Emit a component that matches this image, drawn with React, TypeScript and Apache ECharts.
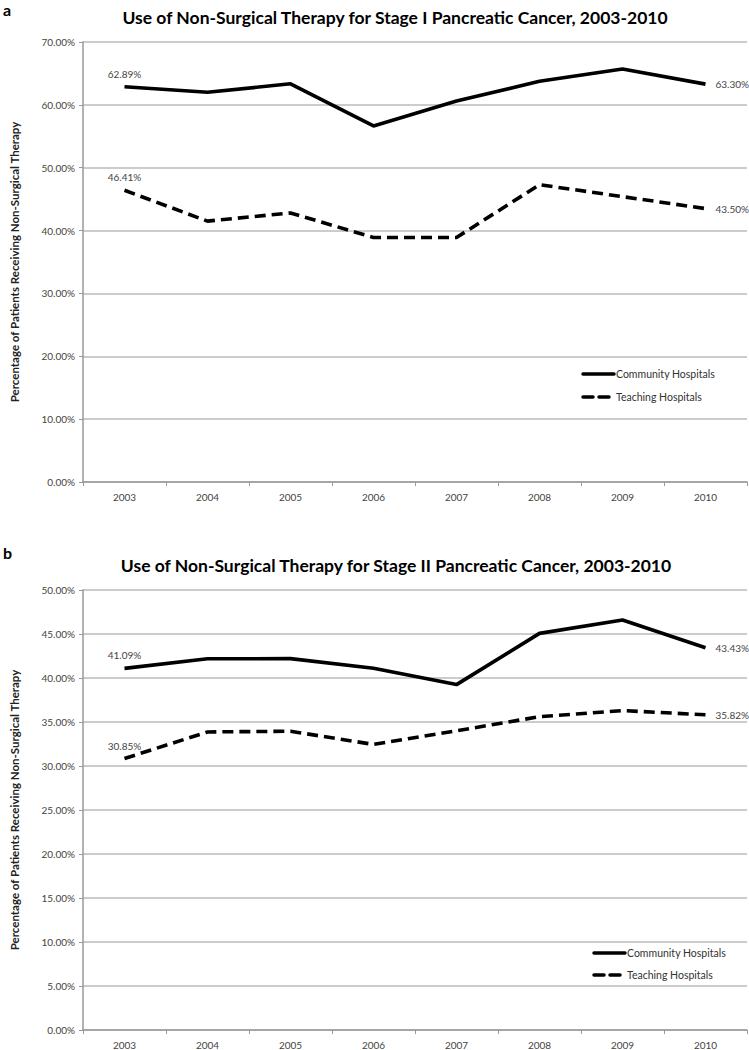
import React, { useEffect, useRef } from "react";
import * as echarts from "echarts";

const years = ["2003", "2004", "2005", "2006", "2007", "2008", "2009", "2010"];

const stage1Community = [62.89, 62.0, 63.35, 56.65, 60.6, 63.75, 65.7, 63.3];
const stage1Teaching = [46.41, 41.5, 42.8, 38.9, 38.9, 47.3, 45.4, 43.5];

const stage2Community = [41.09, 42.18, 42.2, 41.1, 39.25, 45.07, 46.6, 43.43];
const stage2Teaching = [30.85, 33.87, 33.95, 32.45, 34.0, 35.6, 36.3, 35.82];

const titleA = "Use of Non-Surgical Therapy for Stage I Pancreatic Cancer, 2003-2010";
const titleB = "Use of Non-Surgical Therapy for Stage II Pancreatic Cancer, 2003-2010";
const yName = "Percentage of Patients Receiving Non-Surgical Therapy";
const seriesNames = ["Community Hospitals", "Teaching Hospitals"];

const FONT = "Lato, 'Open Sans', sans-serif";
const DASH = [11, 6];

function withEndLabels(values: number[]) {
  const last = values.length - 1;
  return values.map((v, i) => {
    if (i === 0) {
      return { value: v, label: { show: true, position: "top", distance: 8 } };
    }
    if (i === last) {
      return { value: v, label: { show: true, position: "right", distance: 10 } };
    }
    return { value: v };
  });
}

function legendGraphics(x: number, y1: number, y2: number) {
  const items: any[] = [];
  const rows: [string, number, boolean][] = [
    [seriesNames[0], y1, false],
    [seriesNames[1], y2, true],
  ];
  rows.forEach(([name, y, dashed]) => {
    items.push({
      type: "line",
      shape: { x1: x, y1: y, x2: x + 31, y2: y },
      style: {
        stroke: "#000",
        lineWidth: 3.5,
        lineDash: dashed ? [10, 6] : null,
        lineCap: "round",
      },
      silent: true,
    });
    items.push({
      type: "text",
      x: x + 33,
      y,
      style: {
        text: name,
        fontFamily: FONT,
        fontSize: 10.5,
        fill: "#333",
        verticalAlign: "middle",
        align: "left",
      },
      silent: true,
    });
  });
  return items;
}

export default function App() {
  const ref = useRef<HTMLDivElement>(null);

  useEffect(() => {
    if (!ref.current) return;
    const chart = echarts.init(ref.current, undefined, { renderer: "svg" });

    const labelStyle = {
      fontFamily: FONT,
      fontSize: 10,
      color: "#444",
      formatter: (p: any) => Number(p.value).toFixed(2) + "%",
    };

    const mkSeries = (name: string, data: number[], idx: number, dashed: boolean) => ({
      name,
      type: "line",
      xAxisIndex: idx,
      yAxisIndex: idx,
      data: withEndLabels(data),
      symbol: "circle",
      symbolSize: 0,
      showSymbol: true,
      lineStyle: {
        color: "#000",
        width: 3.6,
        type: dashed ? DASH : "solid",
      },
      itemStyle: { color: "#000" },
      label: labelStyle,
      emphasis: { disabled: true },
    });

    const xAxisCommon = {
      type: "category",
      data: years,
      boundaryGap: true,
      axisLine: { lineStyle: { color: "#999", width: 1.5 } },
      axisTick: { show: true, length: 4, lineStyle: { color: "#999" } },
      axisLabel: { fontFamily: FONT, fontSize: 10, color: "#444", margin: 10 },
    };

    const yAxisCommon = {
      type: "value",
      min: 0,
      name: yName,
      nameLocation: "middle",
      nameRotate: 90,
      nameGap: 63,
      nameTextStyle: { fontFamily: FONT, fontSize: 11.5, fontWeight: "bold", color: "#222" },
      axisLine: { show: true, lineStyle: { color: "#999", width: 1.5 } },
      axisTick: { show: true, length: 4, lineStyle: { color: "#999" } },
      axisLabel: {
        fontFamily: FONT,
        fontSize: 10,
        color: "#444",
        margin: 8,
        formatter: (v: number) => v.toFixed(2) + "%",
      },
      splitLine: { lineStyle: { color: "#bbb", width: 1.5 } },
    };

    chart.setOption({
      animation: false,
      backgroundColor: "#fff",
      grid: [
        { left: 75, width: 672, top: 42, height: 440 },
        { left: 75, width: 672, top: 590, height: 440 },
      ],
      xAxis: [
        { ...xAxisCommon, gridIndex: 0 },
        { ...xAxisCommon, gridIndex: 1 },
      ],
      yAxis: [
        { ...yAxisCommon, gridIndex: 0, max: 70, interval: 10 },
        { ...yAxisCommon, gridIndex: 1, max: 50, interval: 5 },
      ],
      series: [
        mkSeries(seriesNames[0], stage1Community, 0, false),
        mkSeries(seriesNames[1], stage1Teaching, 0, true),
        mkSeries(seriesNames[0], stage2Community, 1, false),
        mkSeries(seriesNames[1], stage2Teaching, 1, true),
      ],
      graphic: [
        {
          type: "text",
          x: 3,
          y: 1,
          style: {
            text: "a",
            fontFamily: FONT,
            fontSize: 16,
            fontWeight: "bold",
            fill: "#000",
            verticalAlign: "top",
          },
        },
        {
          type: "text",
          x: 395,
          y: 17,
          style: {
            text: titleA,
            fontFamily: FONT,
            fontSize: 17.5,
            fontWeight: "bold",
            fill: "#000",
            align: "center",
            verticalAlign: "middle",
          },
        },
        {
          type: "text",
          x: 3,
          y: 544,
          style: {
            text: "b",
            fontFamily: FONT,
            fontSize: 16,
            fontWeight: "bold",
            fill: "#000",
            verticalAlign: "top",
          },
        },
        {
          type: "text",
          x: 396,
          y: 565,
          style: {
            text: titleB,
            fontFamily: FONT,
            fontSize: 17.5,
            fontWeight: "bold",
            fill: "#000",
            align: "center",
            verticalAlign: "middle",
          },
        },
        ...legendGraphics(583, 374, 397),
        ...legendGraphics(594, 953, 975),
      ],
    });

    return () => chart.dispose();
  }, []);

  return (
    <div
      ref={ref}
      style={{ position: "absolute", left: 0, top: 0, width: 749, height: 1050 }}
    />
  );
}
